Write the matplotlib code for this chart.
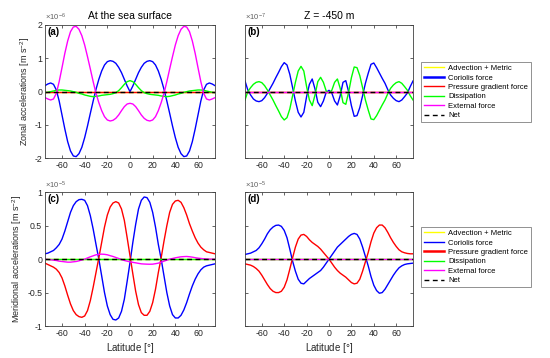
import matplotlib
matplotlib.use('Agg')
import matplotlib.pyplot as plt
import numpy as np

plt.rcParams['font.family'] = ['Liberation Sans', 'DejaVu Sans']
plt.rcParams['mathtext.fontset'] = 'custom'
plt.rcParams['mathtext.rm'] = 'Liberation Sans'
plt.rcParams['mathtext.it'] = 'Liberation Sans:italic'
plt.rcParams['axes.unicode_minus'] = False  # matlab style hyphen minus

# Latitude grid the curves were read at (every 2.5 deg, -75..75):
LAT = np.linspace(-75, 75, 61)

# (a) zonal, sea surface  [x 1e-6 m s-2]
CORIOLIS_A = [0.18, 0.23, 0.26, 0.22, 0.05, -0.28, -0.70, -1.12, -1.50, -1.78, -1.93, -1.95, -1.86, -1.67,
              -1.38, -1.03, -0.65, -0.28, 0.07, 0.37, 0.62, 0.80, 0.90, 0.93, 0.91, 0.85, 0.73, 0.57, 0.37, 0.17,
              0.00,
              0.17, 0.37, 0.57, 0.73, 0.85, 0.91, 0.93, 0.90, 0.80, 0.62, 0.37, 0.07, -0.28, -0.65, -1.03,
              -1.38, -1.67, -1.86, -1.95, -1.93, -1.78, -1.50, -1.12, -0.70, -0.28, 0.05, 0.22, 0.26, 0.23, 0.18]
DISSIP_A = [-0.03, -0.02, 0.00, 0.02, 0.04, 0.05, 0.05, 0.04, 0.03, 0.02, 0.00, -0.02, -0.05, -0.07, -0.10,
            -0.12, -0.14, -0.15, -0.14, -0.13, -0.11, -0.10, -0.09, -0.08, -0.06, -0.03, 0.03, 0.12, 0.22, 0.30,
            0.33,
            0.30, 0.22, 0.12, 0.03, -0.03, -0.06, -0.08, -0.09, -0.10, -0.11, -0.13, -0.14, -0.15, -0.14, -0.12,
            -0.10, -0.07, -0.05, -0.02, 0.00, 0.02, 0.03, 0.04, 0.05, 0.05, 0.04, 0.02, 0.00, -0.02, -0.03]
EXTERNAL_A = [-0.18, -0.22, -0.25, -0.22, -0.05, 0.30, 0.72, 1.15, 1.52, 1.80, 1.94, 1.96, 1.87, 1.68, 1.40,
              1.05, 0.68, 0.30, -0.05, -0.33, -0.57, -0.75, -0.85, -0.88, -0.86, -0.80, -0.70, -0.57, -0.45, -0.37,
              -0.35,
              -0.37, -0.45, -0.57, -0.70, -0.80, -0.86, -0.88, -0.85, -0.75, -0.57, -0.33, -0.05, 0.30, 0.68, 1.05,
              1.40, 1.68, 1.87, 1.96, 1.94, 1.80, 1.52, 1.15, 0.72, 0.30, -0.05, -0.22, -0.25, -0.22, -0.18]

# (b) zonal, Z = -450 m  [x 1e-7 m s-2]
CORIOLIS_B = [0.32, 0.05, -0.10, -0.22, -0.28, -0.30, -0.27, -0.18, -0.05, 0.10, 0.25, 0.42, 0.58, 0.75, 0.87,
              0.80, 0.52, 0.12, -0.28, -0.62, -0.76, -0.62, -0.15, 0.22, 0.38, 0.08, -0.32, -0.45, -0.28, -0.02,
              0.04,
              -0.04, -0.28, -0.40, -0.12, 0.28, 0.33, 0.00, -0.42, -0.74, -0.72, -0.48, -0.12, 0.25, 0.55, 0.82,
              0.86, 0.72, 0.56, 0.40, 0.25, 0.06, -0.10, -0.20, -0.27, -0.30, -0.25, -0.15, -0.04, 0.15, 0.32]
DISSIP_B = [-0.25, 0.00, 0.12, 0.22, 0.28, 0.30, 0.27, 0.18, 0.05, -0.10, -0.25, -0.42, -0.58, -0.75, -0.85,
            -0.78, -0.52, -0.12, 0.28, 0.62, 0.76, 0.62, 0.15, -0.25, -0.42, -0.10, 0.30, 0.43, 0.28, 0.02,
            -0.04,
            0.04, 0.28, 0.38, 0.10, -0.33, -0.38, -0.02, 0.42, 0.74, 0.72, 0.48, 0.12, -0.25, -0.55, -0.82,
            -0.84, -0.72, -0.56, -0.40, -0.25, -0.06, 0.10, 0.20, 0.27, 0.30, 0.25, 0.15, 0.04, -0.12, -0.25]

# (c) meridional, sea surface  [x 1e-5 m s-2]
CORIOLIS_C = [0.08, 0.09, 0.11, 0.13, 0.17, 0.22, 0.30, 0.42, 0.56, 0.70, 0.80, 0.86, 0.89, 0.895, 0.88,
              0.80, 0.65, 0.45, 0.22, 0.00, -0.25, -0.50, -0.70, -0.83, -0.90, -0.91, -0.88, -0.78, -0.60, -0.33,
              -0.05,
              0.25, 0.52, 0.75, 0.88, 0.93, 0.92, 0.85, 0.70, 0.48, 0.22, 0.00, -0.25, -0.50, -0.70, -0.83,
              -0.88, -0.88, -0.84, -0.76, -0.65, -0.52, -0.40, -0.30, -0.22, -0.16, -0.12, -0.10, -0.09, -0.08, -0.07]
PRESSURE_C = [-0.06, -0.08, -0.10, -0.12, -0.15, -0.20, -0.28, -0.40, -0.54, -0.67, -0.77, -0.83, -0.86, -0.87,
              -0.85, -0.77, -0.62, -0.42, -0.20, 0.02, 0.25, 0.48, 0.66, 0.78, 0.84, 0.86, 0.84, 0.75, 0.58, 0.32,
              0.05,
              -0.22, -0.48, -0.68, -0.80, -0.84, -0.84, -0.78, -0.65, -0.45, -0.20, 0.02, 0.27, 0.50, 0.70, 0.82,
              0.87, 0.88, 0.85, 0.77, 0.66, 0.53, 0.42, 0.32, 0.24, 0.18, 0.14, 0.11, 0.10, 0.09, 0.08]
EXTERNAL_C = [0.00, -0.005, -0.01, -0.015, -0.02, -0.03, -0.035, -0.04, -0.045, -0.045, -0.04, -0.035, -0.025,
              -0.012, 0.00, 0.018, 0.035, 0.05, 0.065, 0.072, 0.075, 0.072, 0.065, 0.052, 0.04, 0.025, 0.01,
              -0.005, -0.02, -0.03,
              -0.04,
              -0.048, -0.055, -0.063, -0.07, -0.073, -0.075, -0.076, -0.075, -0.068, -0.06, -0.045, -0.03, -0.015,
              0.00, 0.01, 0.02, 0.028, 0.035, 0.038, 0.04, 0.036, 0.03, 0.022, 0.015, 0.01, 0.005, 0.002, 0.00,
              0.00, 0.00]

# (d) meridional, Z = -450 m  [x 1e-5 m s-2]
CORIOLIS_D = [0.07, 0.08, 0.09, 0.11, 0.13, 0.17, 0.23, 0.30, 0.38, 0.44, 0.48, 0.505, 0.51, 0.49, 0.43,
              0.32, 0.15, -0.03, -0.18, -0.30, -0.36, -0.37, -0.33, -0.29, -0.26, -0.23, -0.20, -0.17, -0.12, -0.06,
              0.00,
              0.06, 0.12, 0.18, 0.22, 0.26, 0.30, 0.34, 0.37, 0.385, 0.37, 0.30, 0.18, 0.04, -0.10, -0.26,
              -0.39, -0.47, -0.51, -0.50, -0.45, -0.38, -0.31, -0.24, -0.18, -0.13, -0.10, -0.08, -0.07, -0.065, -0.06]
PRESSURE_D = [-0.07, -0.08, -0.09, -0.11, -0.14, -0.18, -0.24, -0.31, -0.38, -0.44, -0.48, -0.50, -0.50, -0.48,
              -0.42, -0.31, -0.15, 0.02, 0.18, 0.30, 0.36, 0.37, 0.34, 0.29, 0.25, 0.22, 0.19, 0.15, 0.10, 0.05,
              0.00,
              -0.06, -0.12, -0.17, -0.21, -0.24, -0.27, -0.31, -0.35, -0.37, -0.36, -0.30, -0.18, -0.04, 0.10, 0.26,
              0.39, 0.47, 0.51, 0.51, 0.47, 0.40, 0.32, 0.25, 0.19, 0.14, 0.11, 0.095, 0.085, 0.08, 0.08]

# terms that sit on the zero line in the picture:
ZERO_LINE = np.zeros(len(LAT))

LABELS = ['Advection + Metric', 'Coriolis force', 'Pressure gradient force', 'Dissipation',
          'External force', 'Net']
COLORS = ['#ffff00', '#0000ff', '#ff0000', '#00ff00', '#ff00ff', 'black']

PANELS = {
    'a': dict(terms=[ZERO_LINE, CORIOLIS_A, ZERO_LINE, DISSIP_A, EXTERNAL_A, ZERO_LINE], exp=-6, ylim=2,
              yticks=[-2, -1, 0, 1, 2]),
    'b': dict(terms=[ZERO_LINE, CORIOLIS_B, ZERO_LINE, DISSIP_B, ZERO_LINE, ZERO_LINE], exp=-7, ylim=2,
              yticks=[-2, -1, 0, 1, 2]),
    'c': dict(terms=[ZERO_LINE, CORIOLIS_C, PRESSURE_C, ZERO_LINE, EXTERNAL_C, ZERO_LINE], exp=-5, ylim=1,
              yticks=[-1, -0.5, 0, 0.5, 1]),
    'd': dict(terms=[ZERO_LINE, CORIOLIS_D, PRESSURE_D, ZERO_LINE, ZERO_LINE, ZERO_LINE], exp=-5, ylim=1,
              yticks=[-1, -0.5, 0, 0.5, 1]),
}

W, H = 550, 358
AX_RECTS = {'a': (45, 25, 170, 133.3), 'b': (245, 25, 168, 133.3),
            'c': (45, 192.3, 170, 133.7), 'd': (245, 192.3, 168, 133.7)}
EDGE = '#404040'
TEXT = '#262626'


def draw_panel(ax, key, show_ylabels):
    p = PANELS[key]
    handles = []
    for series, color, label in zip(p['terms'], COLORS, LABELS):
        if label == 'Net':
            h, = ax.plot(LAT, series, color=color, lw=1.0, linestyle=(0, (3.5, 2.5)), label=label)
        else:
            h, = ax.plot(LAT, series, color=color, lw=1.0, label=label)
        handles.append(h)
    ax.set_xlim(-75, 75)
    ax.set_ylim(-p['ylim'], p['ylim'])
    ax.set_xticks([-60, -40, -20, 0, 20, 40, 60])
    ax.set_yticks(p['yticks'])
    ax.set_yticklabels([('%g' % t) for t in p['yticks']] if show_ylabels else [])
    ax.tick_params(direction='in', top=True, right=True, length=2.5, width=0.5,
                   labelsize=6.3, colors=TEXT, pad=2)
    for s in ax.spines.values():
        s.set_color(EDGE)
        s.set_linewidth(0.6)
    ax.text(0.012, 0.985, '(' + key + ')', transform=ax.transAxes, ha='left', va='top',
            fontsize=7, weight='bold', color='black')
    ax.text(0.0, 1.012, r'$\times$10$^{%d}$' % p['exp'], transform=ax.transAxes, ha='left', va='bottom',
            fontsize=5.5, color='#606060')
    return handles


fig = plt.figure(figsize=(W / 100, H / 100), dpi=100)
axes = {}
for key, (x0, y0, w, h) in AX_RECTS.items():
    axes[key] = fig.add_axes([x0 / W, 1 - (y0 + h) / H, w / W, h / H])

for key, ax in axes.items():
    hs = draw_panel(ax, key, key in ('a', 'c'))
    if key in ('b', 'd'):
        top = 62 if key == 'b' else 227
        leg = ax.legend(handles=hs, loc='upper left', bbox_to_anchor=(421 / W, 1 - top / H),
                        bbox_transform=fig.transFigure, fontsize=5.5, frameon=True, fancybox=False,
                        edgecolor='#808080', framealpha=1, borderpad=0.35, labelspacing=0.28,
                        handlelength=2.6, handletextpad=0.6, borderaxespad=0)
        leg.get_frame().set_linewidth(0.6)
        # matlab draws the panel's dominant term thicker in the legend
        leg.get_lines()[1 if key == 'b' else 2].set_linewidth(1.8)

axes['a'].set_title('At the sea surface', fontsize=7.5, color='black', pad=4)
axes['b'].set_title('Z = -450 m', fontsize=7.5, color='black', pad=4)
axes['a'].set_ylabel('Zonal accelerations [m s$^{-2}$]', fontsize=6.5, color=TEXT, labelpad=2)
axes['c'].set_ylabel('Meridional accelerations [m s$^{-2}$]', fontsize=6.5, color=TEXT, labelpad=2)
axes['c'].set_xlabel('Latitude [$\\degree$]', fontsize=7, color=TEXT, labelpad=2)
axes['d'].set_xlabel('Latitude [$\\degree$]', fontsize=7, color=TEXT, labelpad=2)

fig.savefig('out.png', dpi=100)
